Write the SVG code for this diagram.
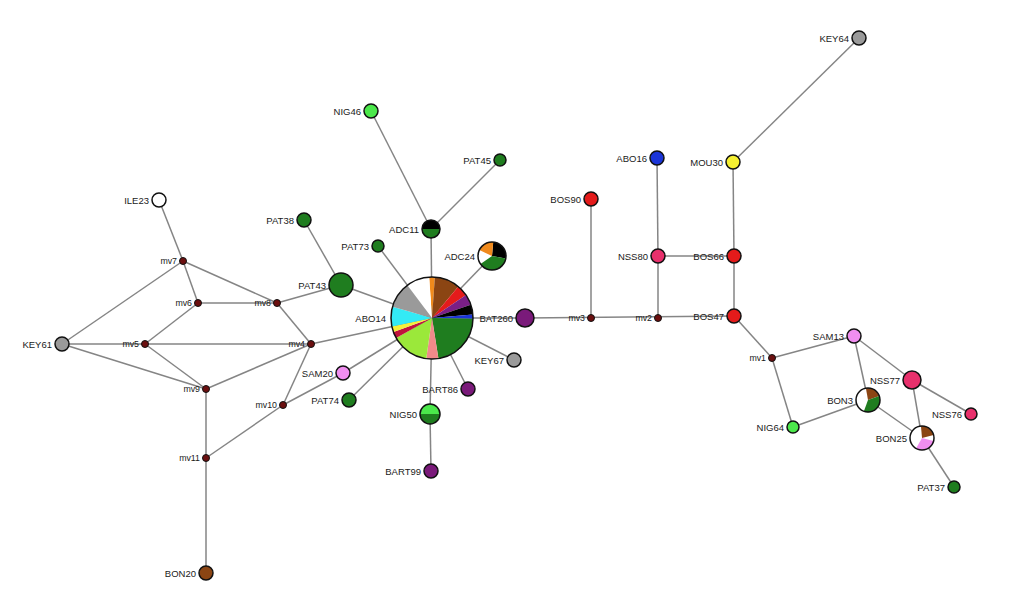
<svg xmlns="http://www.w3.org/2000/svg" width="1024" height="605" viewBox="0 0 1024 605">
<style>
.e{stroke:#858585;stroke-width:1.5;fill:none}
.n{stroke:#111;stroke-width:1.5}
.o{fill:none;stroke:#111;stroke-width:1.5}
.mv{fill:#6b0f0f;stroke:#111;stroke-width:1}
text{font-family:"Liberation Sans",Arial,sans-serif;font-size:9.5px;fill:#1a1a1a;text-anchor:end}
text.m{font-size:8.8px}
.dg{fill:#1f7d1f}.lg{fill:#4be84b}.vi{fill:#f08ef0}.dp{fill:#e8306c}.rd{fill:#e41b1b}.pu{fill:#7a1a7a}.gy{fill:#9a9a9a}.ye{fill:#f5f032}.bl{fill:#1b35d8}.br{fill:#8b4513}.wh{fill:#ffffff}
</style>
<rect width="1024" height="605" fill="#ffffff"/>
<g id="connectors">
<line class="e" x1="859" y1="38" x2="733" y2="162"/>
<line class="e" x1="733" y1="162" x2="734" y2="256"/>
<line class="e" x1="734" y1="256" x2="734" y2="316"/>
<line class="e" x1="658" y1="256" x2="734" y2="256"/>
<line class="e" x1="657" y1="158" x2="658" y2="256"/>
<line class="e" x1="658" y1="256" x2="658" y2="318"/>
<line class="e" x1="591" y1="199" x2="591" y2="318"/>
<line class="e" x1="525" y1="318" x2="734" y2="316"/>
<line class="e" x1="734" y1="316" x2="772" y2="358"/>
<line class="e" x1="772" y1="358" x2="854" y2="336"/>
<line class="e" x1="772" y1="358" x2="793" y2="427"/>
<line class="e" x1="854" y1="336" x2="868" y2="400"/>
<line class="e" x1="854" y1="336" x2="912" y2="380"/>
<line class="e" x1="793" y1="427" x2="868" y2="400"/>
<line class="e" x1="868" y1="400" x2="922" y2="438"/>
<line class="e" x1="912" y1="380" x2="922" y2="438"/>
<line class="e" x1="912" y1="380" x2="971" y2="414"/>
<line class="e" x1="922" y1="438" x2="954" y2="487"/>
<line class="e" x1="432" y1="318" x2="525" y2="318"/>
<line class="e" x1="432" y1="318" x2="431" y2="229"/>
<line class="e" x1="431" y1="229" x2="371" y2="111"/>
<line class="e" x1="431" y1="229" x2="500" y2="160"/>
<line class="e" x1="432" y1="318" x2="492" y2="256"/>
<line class="e" x1="432" y1="318" x2="378" y2="246"/>
<line class="e" x1="432" y1="318" x2="341" y2="285"/>
<line class="e" x1="341" y1="285" x2="304" y2="220"/>
<line class="e" x1="432" y1="318" x2="311" y2="344"/>
<line class="e" x1="432" y1="318" x2="343" y2="373"/>
<line class="e" x1="432" y1="318" x2="349" y2="400"/>
<line class="e" x1="432" y1="318" x2="514" y2="360"/>
<line class="e" x1="432" y1="318" x2="468" y2="389"/>
<line class="e" x1="432" y1="318" x2="430" y2="414"/>
<line class="e" x1="430" y1="414" x2="431" y2="471"/>
<line class="e" x1="159" y1="200" x2="183" y2="261"/>
<line class="e" x1="183" y1="261" x2="198" y2="303"/>
<line class="e" x1="183" y1="261" x2="62" y2="344"/>
<line class="e" x1="183" y1="261" x2="277" y2="303"/>
<line class="e" x1="198" y1="303" x2="277" y2="303"/>
<line class="e" x1="198" y1="303" x2="145" y2="344"/>
<line class="e" x1="277" y1="303" x2="341" y2="285"/>
<line class="e" x1="277" y1="303" x2="311" y2="344"/>
<line class="e" x1="62" y1="344" x2="311" y2="344"/>
<line class="e" x1="62" y1="344" x2="206" y2="389"/>
<line class="e" x1="145" y1="344" x2="206" y2="389"/>
<line class="e" x1="311" y1="344" x2="206" y2="389"/>
<line class="e" x1="311" y1="344" x2="283" y2="405"/>
<line class="e" x1="283" y1="405" x2="343" y2="373"/>
<line class="e" x1="283" y1="405" x2="206" y2="458"/>
<line class="e" x1="206" y1="389" x2="206" y2="573"/>
</g>
<g id="KEY64"><circle class="n gy" cx="859" cy="38" r="7"/><text x="849" y="41.5">KEY64</text></g>
<g id="MOU30"><circle class="n ye" cx="733" cy="162" r="7"/><text x="723" y="165.5">MOU30</text></g>
<g id="ABO16"><circle class="n bl" cx="657" cy="158" r="7"/><text x="647" y="161.5">ABO16</text></g>
<g id="BOS90"><circle class="n rd" cx="591" cy="199" r="7"/><text x="581" y="202.5">BOS90</text></g>
<g id="NSS80"><circle class="n dp" cx="658" cy="256" r="7"/><text x="648" y="259.5">NSS80</text></g>
<g id="BOS66"><circle class="n rd" cx="734" cy="256" r="7"/><text x="724" y="259.5">BOS66</text></g>
<g id="BOS47"><circle class="n rd" cx="734" cy="316" r="7"/><text x="724" y="319.5">BOS47</text></g>
<g id="mv3"><circle class="mv" cx="591" cy="318" r="3.5"/><text class="m" x="585" y="321">mv3</text></g>
<g id="mv2"><circle class="mv" cx="658" cy="318" r="3.5"/><text class="m" x="652" y="321">mv2</text></g>
<g id="mv1"><circle class="mv" cx="772" cy="358" r="3.5"/><text class="m" x="766" y="361">mv1</text></g>
<g id="BAT260"><circle class="n pu" cx="525" cy="318" r="9"/><text x="513" y="321.5">BAT260</text></g>
<g id="SAM13"><circle class="n vi" cx="854" cy="336" r="7"/><text x="844" y="339.5">SAM13</text></g>
<g id="NSS77"><circle class="n dp" cx="912" cy="380" r="9"/><text x="900" y="383.5">NSS77</text></g>
<g id="NSS76"><circle class="n dp" cx="971" cy="414" r="6"/><text x="962" y="417.5">NSS76</text></g>
<g id="BON3"><circle class="wh" cx="868" cy="400" r="12"/>
<path class="br" d="M868 400 L865.92 388.18 A12 12 0 0 1 879.28 395.90 Z"/>
<path class="dg" d="M868 400 L879.28 395.90 A12 12 0 0 1 863.90 411.28 Z"/>
<circle class="o" cx="868" cy="400" r="12"/><text x="853" y="403.5">BON3</text></g>
<g id="BON25"><circle class="wh" cx="922" cy="438" r="12"/>
<path class="br" d="M922 438 L920.95 426.05 A12 12 0 0 1 933.59 434.89 Z"/>
<path class="vi" d="M922 438 L933.59 441.11 A12 12 0 0 1 916 448.39 Z"/>
<circle class="o" cx="922" cy="438" r="12"/><text x="907" y="441.5">BON25</text></g>
<g id="NIG64"><circle class="n lg" cx="793" cy="427" r="6"/><text x="784" y="430.5">NIG64</text></g>
<g id="PAT37"><circle class="n dg" cx="954" cy="487" r="6"/><text x="945" y="490.5">PAT37</text></g>
<g id="ABO14">
<path fill="#f08a1c" d="M432 318 L429.14 277.10 A41 41 0 0 1 434.86 277.10 Z"/>
<path class="br" d="M432 318 L434.86 277.10 A41 41 0 0 1 458.35 286.59 Z"/>
<path class="rd" d="M432 318 L458.35 286.59 A41 41 0 0 1 465.99 295.07 Z"/>
<path fill="#7a1f86" d="M432 318 L465.99 295.07 A41 41 0 0 1 470.77 304.65 Z"/>
<path fill="#000000" d="M432 318 L470.77 304.65 A41 41 0 0 1 472.84 314.43 Z"/>
<path class="bl" d="M432 318 L472.84 314.43 A41 41 0 0 1 472.99 318.72 Z"/>
<path class="dg" d="M432 318 L472.99 318.72 A41 41 0 0 1 438.41 358.50 Z"/>
<path fill="#f08a8a" d="M432 318 L438.41 358.50 A41 41 0 0 1 426.29 358.60 Z"/>
<path fill="#9be83a" d="M432 318 L426.29 358.60 A41 41 0 0 1 396.14 337.88 Z"/>
<path fill="#c0143c" d="M432 318 L396.14 337.88 A41 41 0 0 1 393.47 332.02 Z"/>
<path fill="#f5f03a" d="M432 318 L393.47 332.02 A41 41 0 0 1 391.90 326.52 Z"/>
<path fill="#33eaf5" d="M432 318 L391.90 326.52 A41 41 0 0 1 392.59 306.70 Z"/>
<path class="gy" d="M432 318 L392.59 306.70 A41 41 0 0 1 407.33 285.26 Z"/>
<path class="wh" d="M432 318 L407.33 285.26 A41 41 0 0 1 429.14 277.10 Z"/>
<circle class="o" cx="432" cy="318" r="41"/><text x="386" y="321.5">ABO14</text></g>
<g id="ADC11"><path fill="#000" d="M422 229 A9 9 0 0 1 440 229 Z"/><path class="dg" d="M440 229 A9 9 0 0 1 422 229 Z"/><circle class="o" cx="431" cy="229" r="9"/><text x="419" y="232.5">ADC11</text></g>
<g id="NIG46"><circle class="n lg" cx="371" cy="111" r="7"/><text x="361" y="114.5">NIG46</text></g>
<g id="PAT45"><circle class="n dg" cx="500" cy="160" r="6"/><text x="491" y="163.5">PAT45</text></g>
<g id="ADC24"><circle class="wh" cx="492" cy="256" r="14"/>
<path fill="#000" d="M492 256 L493.22 242.05 A14 14 0 0 1 505.79 258.43 Z"/>
<path class="dg" d="M492 256 L505.79 258.43 A14 14 0 0 1 480.53 264.03 Z"/>
<path fill="#f08a1c" d="M492 256 L479.31 250.08 A14 14 0 0 1 493.22 242.05 Z"/>
<circle class="o" cx="492" cy="256" r="14"/><text x="475" y="259.5">ADC24</text></g>
<g id="PAT73"><circle class="n dg" cx="378" cy="246" r="6"/><text x="369" y="249.5">PAT73</text></g>
<g id="PAT38"><circle class="n dg" cx="304" cy="220" r="7"/><text x="294" y="223.5">PAT38</text></g>
<g id="PAT43"><circle class="n dg" cx="341" cy="285" r="12"/><text x="326" y="288.5">PAT43</text></g>
<g id="SAM20"><circle class="n vi" cx="343" cy="373" r="7"/><text x="333" y="376.5">SAM20</text></g>
<g id="PAT74"><circle class="n dg" cx="349" cy="400" r="7"/><text x="339" y="403.5">PAT74</text></g>
<g id="KEY67"><circle class="n gy" cx="514" cy="360" r="7"/><text x="504" y="363.5">KEY67</text></g>
<g id="BART86"><circle class="n pu" cx="468" cy="389" r="7"/><text x="458" y="392.5">BART86</text></g>
<g id="NIG50"><path class="lg" d="M420 414 A10 10 0 0 1 440 414 Z"/><path class="dg" d="M440 414 A10 10 0 0 1 420 414 Z"/><circle class="o" cx="430" cy="414" r="10"/><text x="417" y="417.5">NIG50</text></g>
<g id="BART99"><circle class="n pu" cx="431" cy="471" r="7"/><text x="421" y="474.5">BART99</text></g>
<g id="ILE23"><circle class="n wh" cx="159" cy="200" r="7"/><text x="149" y="203.5">ILE23</text></g>
<g id="KEY61"><circle class="n gy" cx="62" cy="344" r="7"/><text x="52" y="347.5">KEY61</text></g>
<g id="mv7"><circle class="mv" cx="183" cy="261" r="3.5"/><text class="m" x="177" y="264">mv7</text></g>
<g id="mv6"><circle class="mv" cx="198" cy="303" r="3.5"/><text class="m" x="192" y="306">mv6</text></g>
<g id="mv8"><circle class="mv" cx="277" cy="303" r="3.5"/><text class="m" x="271" y="306">mv8</text></g>
<g id="mv5"><circle class="mv" cx="145" cy="344" r="3.5"/><text class="m" x="139" y="347">mv5</text></g>
<g id="mv4"><circle class="mv" cx="311" cy="344" r="3.5"/><text class="m" x="305" y="347">mv4</text></g>
<g id="mv9"><circle class="mv" cx="206" cy="389" r="3.5"/><text class="m" x="200" y="392">mv9</text></g>
<g id="mv10"><circle class="mv" cx="283" cy="405" r="3.5"/><text class="m" x="277" y="408">mv10</text></g>
<g id="mv11"><circle class="mv" cx="206" cy="458" r="3.5"/><text class="m" x="200" y="461">mv11</text></g>
<g id="BON20"><circle class="n br" cx="206" cy="573" r="7"/><text x="196" y="576.5">BON20</text></g>
</svg>
